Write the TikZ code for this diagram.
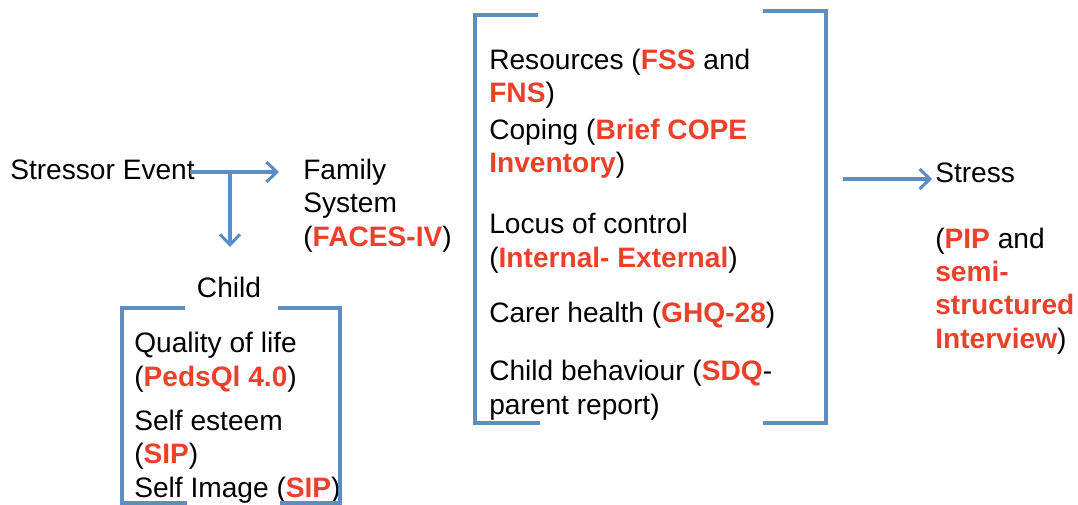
\documentclass[tikz,border=0pt]{standalone}
\usepackage{fontspec}
\setmainfont{Liberation Sans}
\usepackage{xcolor}
\usetikzlibrary{arrows.meta}

\definecolor{lineblue}{RGB}{91,142,197}
\definecolor{toolred}{RGB}{234,64,44}
\newcommand{\tool}[1]{\textbf{\color{toolred}#1}}

\tikzset{
  lbl/.style={anchor=base west, inner sep=0pt, align=left,
    font=\fontsize{20}{23.6}\selectfont},
  flow/.style={lineblue, line width=2.2pt,
    -{Straight Barb[length=2.6mm,width=5mm]}},
  brace/.style={lineblue, line width=2.2pt}
}

\begin{document}
\begin{tikzpicture}[x=0.025cm, y=-0.025cm]
  \useasboundingbox (0,0) rectangle (1078,505);

  % stressor and family (multi-line nodes sit on their last baseline)
  \node[lbl] (stressor) at (10,180) {Stressor Event};
  \node[lbl] (family) at (303,246) {Family\\System\\(\tool{FACES-IV})};
  \node[lbl, anchor=base] (child) at (229,297) {Child};

  \coordinate (split) at (230,172);
  \coordinate (famin) at (279,172);
  \coordinate (childin) at (230,247);
  \draw[lineblue, line width=2.2pt] (190,172) -- (split);
  \draw[flow] (190,172) -- (famin);
  \draw[flow] (split) -- (childin);

  % child box
  \node[lbl] (qol) at (134,386) {Quality of life\\(\tool{PedsQl 4.0})};
  \node[lbl] (esteem) at (134,497) {Self esteem\\(\tool{SIP})\\Self Image (\tool{SIP})};
  \draw[brace] (185,308) -- (122,308) -- (122,503) -- (187,503);
  \draw[brace] (278,308) -- (340,308) -- (340,503) -- (280,503);

  % family resources box
  \node[lbl] (res) at (489,103) {Resources (\tool{FSS} and\\\tool{FNS})};
  \node[lbl] (cope) at (489,173) {Coping (\tool{Brief COPE}\\\tool{Inventory})};
  \node[lbl] (locus) at (489,267) {Locus of control\\(\tool{Internal- External})};
  \node[lbl] (carer) at (489,322) {Carer health (\tool{GHQ-28})};
  \node[lbl] (behav) at (489,414) {Child behaviour (\tool{SDQ}-\\parent report)};
  \draw[brace] (538,15) -- (475,15) -- (475,423) -- (540,423);
  \draw[brace] (763,11) -- (826,11) -- (826,423) -- (763,423);

  % stress
  \node[lbl] (stress) at (935,183) {Stress};
  \node[lbl] (pip) at (935,348) {(\tool{PIP} and\\\tool{semi-}\\\tool{structured}\\\tool{Interview})};
  \coordinate (stressout) at (843,179);
  \draw[flow] (stressout) -- ([xshift=-2pt]stress.west |- stressout);
\end{tikzpicture}
\end{document}
